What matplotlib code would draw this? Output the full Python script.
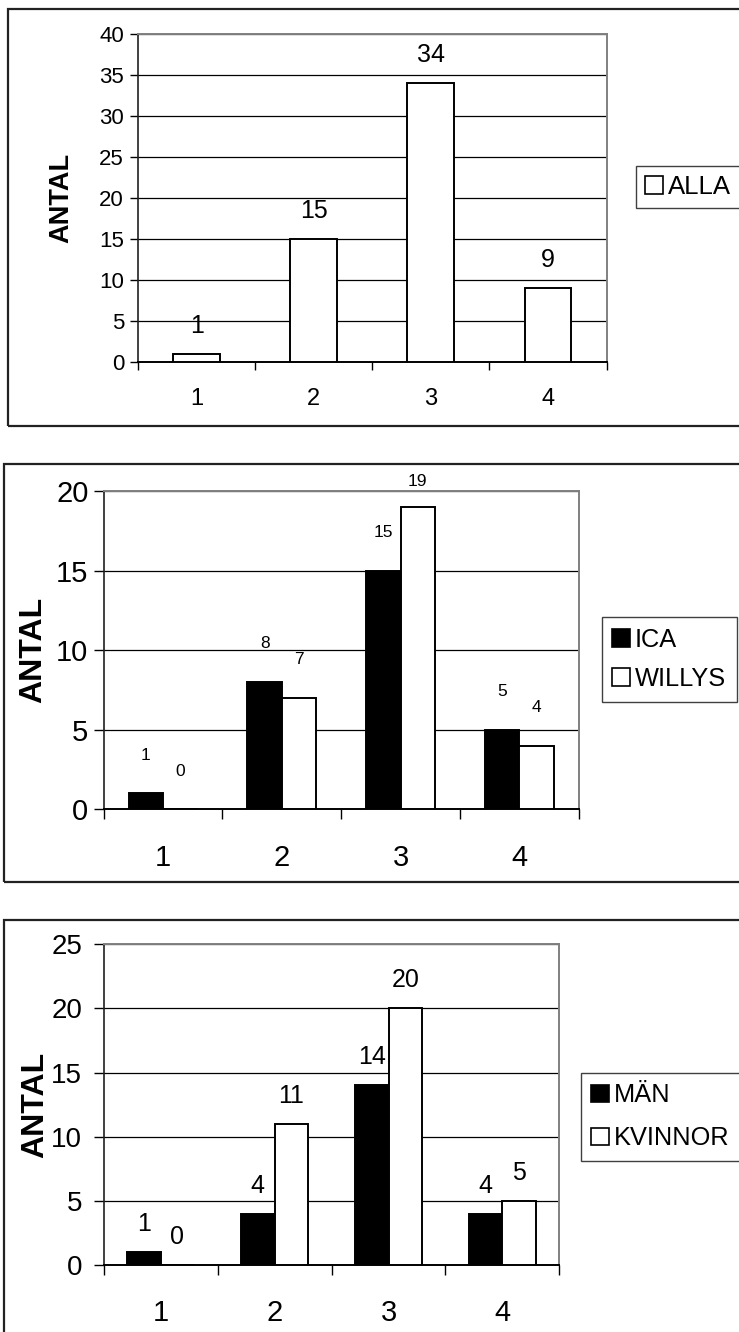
import matplotlib
matplotlib.use("Agg")
import matplotlib.pyplot as plt
from matplotlib.patches import Rectangle, Patch

plt.rcParams['font.family'] = ['Liberation Sans', 'DejaVu Sans']

categories = ['1', '2', '3', '4']
alla = [1, 15, 34, 9]
ica = [1, 8, 15, 5]
willys = [0, 7, 19, 4]
man = [1, 4, 14, 4]
kvinnor = [0, 11, 20, 5]

W, H = 739, 1332
DPI = 100
fig = plt.figure(figsize=(W / DPI, H / DPI), dpi=DPI)


def fx(x):
    return x / W


def fy(y):
    return 1 - y / H


def box(l, t, r, b):
    fig.add_artist(Rectangle((fx(l), fy(b)), (r - l) / W, (b - t) / H,
                             transform=fig.transFigure, fill=False,
                             ec='#222222', lw=1.6))


def panel(plot, series, names, colors, ymax, width, ytick_fs, xtick_fs,
          tick_len, ypad, xpad, val_fs, val_off, antal_x, antal_fs,
          leg_pos, leg_fs, leg_space, leg_pad, cap=None):
    l, t, r, b = plot
    ax = fig.add_axes([fx(l), fy(b), (r - l) / W, (b - t) / H])
    n = len(series)
    xs = range(1, len(categories) + 1)
    off = val_off * ymax / (b - t)
    handles = []
    for i, (vals, c) in enumerate(zip(series, colors)):
        shift = (i - (n - 1) / 2) * width
        pos = [x + shift for x in xs]
        ax.bar(pos, vals, width=width, color=c, edgecolor='black',
               linewidth=1.4, zorder=3)
        handles.append(Patch(facecolor=c, edgecolor='black', linewidth=1.2))
        for x, v in zip(pos, vals):
            ly = v + off
            if cap is not None:
                ly = min(ly, cap)
            ax.text(x, ly, str(v), ha='center', va='center',
                    fontsize=val_fs, clip_on=False)

    ax.set_xlim(0.5, len(categories) + 0.5)
    ax.set_ylim(0, ymax)
    ax.set_yticks(range(0, ymax + 1, 5))
    ax.set_xticks([x + 0.5 for x in range(0, len(categories) + 1)])
    ax.set_xticklabels([])
    ax.set_xticks(list(xs), minor=True)
    ax.set_xticklabels(categories, minor=True)
    ax.tick_params(axis='x', which='major', direction='out',
                   length=tick_len, width=1.0, color='black')
    ax.tick_params(axis='x', which='minor', length=0, pad=xpad,
                   labelsize=xtick_fs)
    ax.tick_params(axis='y', direction='out', length=tick_len, width=1.0,
                   pad=ypad, labelsize=ytick_fs)
    ax.yaxis.grid(True, color='black', linewidth=0.9)
    ax.set_axisbelow(True)
    for s in ('top', 'right'):
        ax.spines[s].set_color('#808080')
        ax.spines[s].set_linewidth(1.4)
    ax.spines['left'].set_color('#202020')
    ax.spines['left'].set_linewidth(1.2)
    ax.spines['bottom'].set_color('black')
    ax.spines['bottom'].set_linewidth(1.4)

    fig.text(fx(antal_x), fy((t + b) / 2), 'ANTAL', rotation=90,
             ha='center', va='center', fontsize=antal_fs, fontweight='bold')

    leg = ax.legend(handles, names, loc='upper left',
                    bbox_to_anchor=(fx(leg_pos[0]), fy(leg_pos[1])),
                    bbox_transform=fig.transFigure, borderaxespad=0,
                    fancybox=False, edgecolor='#404040', framealpha=1,
                    fontsize=leg_fs, handlelength=0.7, handleheight=0.7,
                    handletextpad=0.2, borderpad=leg_pad,
                    labelspacing=leg_space)
    leg.get_frame().set_linewidth(1.0)
    return ax


# ALLA
box(8, 9, 760, 426)
panel((138, 34.3, 606.5, 361.7), [alla], ['ALLA'], ['white'], 40, 0.4,
      16, 17, 6, 4, 19, 18, 28, 61, 19.5, (636, 166), 18.5, 0.7, 0.35)

# ICA / WILLYS
box(4, 464, 760, 881.7)
panel((103.7, 491, 578.7, 809.3), [ica, willys], ['ICA', 'WILLYS'],
      ['black', 'white'], 20, 0.29, 21, 21, 7, 4, 25, 12.5, 38, 33, 23,
      (601.5, 617), 18.3, 0.6, 0.42, cap=20.6)

# MÄN / KVINNOR
box(4, 920, 760, 1400)
panel((103.7, 944, 559.4, 1265.3), [man, kvinnor], ['MÄN', 'KVINNOR'],
      ['black', 'white'], 25, 0.295, 20, 21, 7.5, 8, 24, 18, 28, 35, 23,
      (580.7, 1072.7), 18.3, 0.75, 0.42)

fig.savefig('out.png', dpi=DPI)
